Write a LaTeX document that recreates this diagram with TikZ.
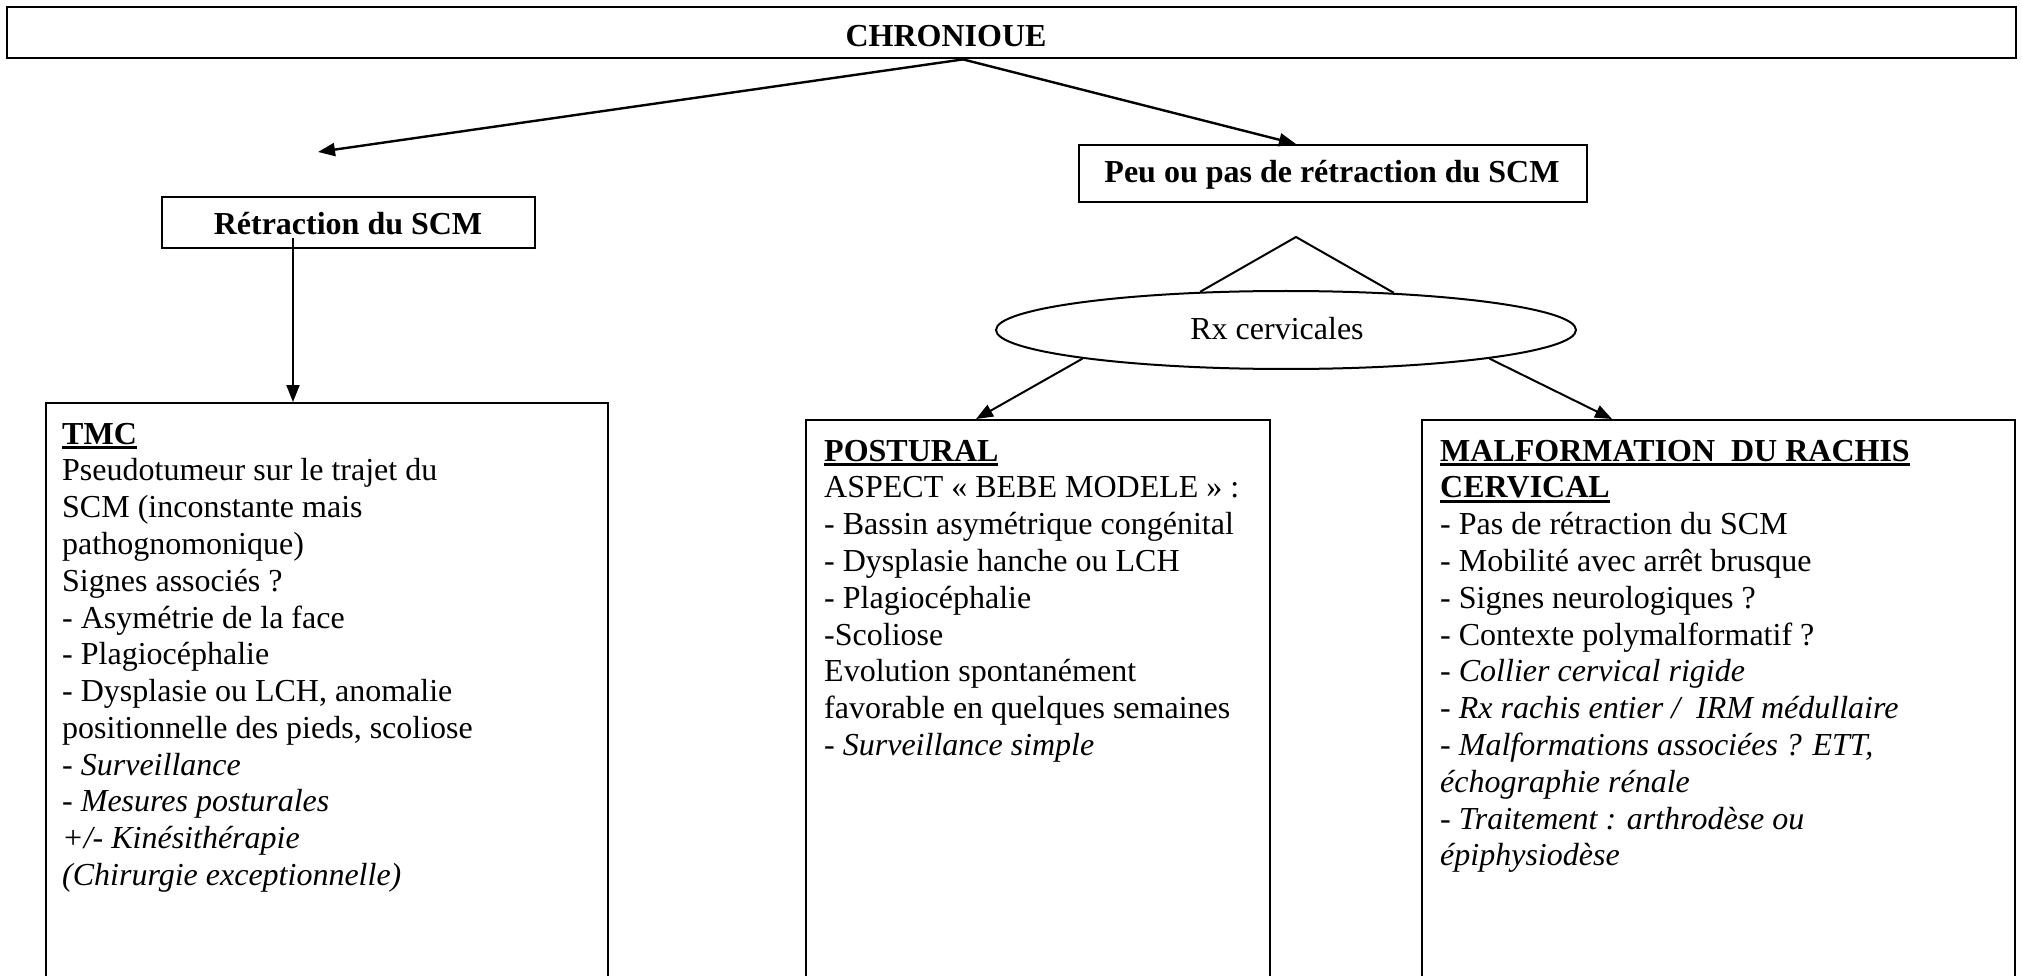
\documentclass[tikz,border=0pt]{standalone}
\usepackage{fontspec}
\setmainfont{Liberation Serif}
\usetikzlibrary{arrows.meta,shapes.geometric,calc}

% bold heading with a heavy underline
\newsavebox{\headbox}
\newcommand{\ulhead}[1]{\leavevmode\sbox{\headbox}{\bfseries #1}\rlap{\rule[-5pt]{\wd\headbox}{3pt}}\usebox{\headbox}}

\tikzset{
  frame/.style={draw, line width=2pt, rectangle, inner sep=0pt, anchor=north west},
  arr/.style={line width=2.4pt, -{Triangle[length=17pt,width=13pt]}},
  thinarr/.style={line width=2pt, -{Triangle[length=17pt,width=13pt]}},
  body/.style={anchor=base west, inner sep=0pt, font=\fontsize{32}{36.8}\selectfont},
  title/.style={anchor=base, inner sep=0pt, font=\fontsize{32}{36.8}\selectfont\bfseries},
  plain/.style={anchor=base, inner sep=0pt, font=\fontsize{32}{36.8}\selectfont},
}

\begin{document}
\begin{tikzpicture}[x=1pt,y=-1pt]
\useasboundingbox (0,0) rectangle (2022,976);

% header bar
\node[frame, line width=2.4pt, minimum width=2009pt, minimum height=51pt] (top) at (6,6) {};
\node[title] (toplbl) at (946,47) {CHRONIOUE};

% second level
\node[frame, minimum width=373pt, minimum height=51pt] (retr) at (161,196) {};
\node[title] (retrlbl) at (348,235) {Rétraction du SCM};
\node[frame, minimum width=508pt, minimum height=57pt] (peu) at (1078,144) {};
\node[title] (peulbl) at (1332,183) {Peu ou pas de rétraction du SCM};

% imaging step
\node[draw, ellipse, line width=2pt, minimum width=580pt, minimum height=78pt, inner sep=0pt] (rx) at (1286,330) {};
\node[plain] (rxlbl) at (1277,340) {Rx cervicales};

% the three open-bottomed result boxes
\begin{scope}
\clip (0,0) rectangle (2022,976);
\node[frame, minimum width=562pt, minimum height=620pt] (tmc) at (45,402) {};
\node[frame, minimum width=464pt, minimum height=600pt] (post) at (805,419) {};
\node[frame, minimum width=593pt, minimum height=600pt] (malf) at (1421,419) {};
\end{scope}

\node[body] (tmctxt) at (62,444) {\parbox[t]{540pt}{\raggedright
\ulhead{TMC}\\
Pseudotumeur sur le trajet du\\
SCM (inconstante mais\\
pathognomonique)\\
Signes associés ?\\
- Asymétrie de la face\\
- Plagiocéphalie\\
- Dysplasie ou LCH, anomalie\\
positionnelle des pieds, scoliose\\
- \textit{Surveillance}\\
- \textit{Mesures posturales}\\
\textit{+/- Kinésithérapie}\\
\textit{(Chirurgie exceptionnelle)}}};

\node[body] (posttxt) at (824,461) {\parbox[t]{440pt}{\raggedright
\ulhead{POSTURAL}\\
ASPECT « BEBE MODELE » :\\
- Bassin asymétrique congénital\\
- Dysplasie hanche ou LCH\\
- Plagiocéphalie\\
-Scoliose\\
Evolution spontanément\\
favorable en quelques semaines\\
- \textit{Surveillance simple}}};

\node[body] (malftxt) at (1440,461) {\parbox[t]{560pt}{\raggedright
\ulhead{MALFORMATION\ \ DU RACHIS}\\
\ulhead{CERVICAL}\\
- Pas de rétraction du SCM\\
- Mobilité avec arrêt brusque\\
- Signes neurologiques ?\\
- Contexte polymalformatif ?\\
\textit{- Collier cervical rigide}\\
\textit{- Rx rachis entier /\ \ IRM médullaire}\\
\textit{- Malformations associées ? ETT,}\\
\textit{échographie rénale}\\
\textit{- Traitement : arthrodèse ou}\\
\textit{épiphysiodèse}}};

% connectors
\coordinate (ltip) at (318,152);
\coordinate (apex) at (1296,237);
\draw[arr] ($(top.south west)+(957,0)$) -- (ltip);
\draw[arr] ($(top.south west)+(957,0)$) -- ($(peu.north west)+(218,0)$);
\draw[thinarr] ($(retr.south west)+(132,-11)$) -- ($(tmc.north west)+(248,0)$);
\draw[line width=2pt] (rx.156.8) -- (apex) -- (rx.19.5);
\draw[thinarr] (rx.188) -- ($(post.north west)+(171,0)$);
\draw[thinarr] (rx.352.7) -- ($(malf.north west)+(191,0)$);
\end{tikzpicture}
\end{document}
